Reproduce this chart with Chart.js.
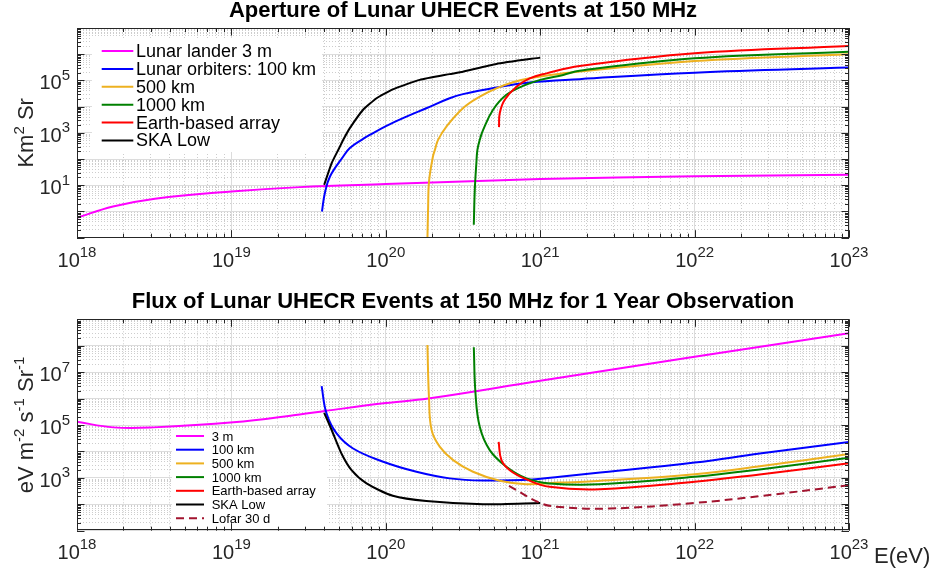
<!DOCTYPE html>
<html>
<head>
<meta charset="utf-8">
<script src="https://cdn.jsdelivr.net/npm/chart.js@4.4.1/dist/chart.umd.min.js"></script>
<style>
  html, body { margin: 0; padding: 0; background: #fff; }
  .panel { position: relative; width: 933px; height: 286px; }
</style>
</head>
<body>
<div class="panel"><canvas id="aperture"></canvas></div>
<div class="panel"><canvas id="flux"></canvas></div>
<script>
// values, energies in eV
const xTickExps = [18, 19, 20, 21, 22, 23];
const apertureTickExps = [1, 3, 5];
const fluxTickExps = [3, 5, 7];

// aperture, km^2 sr
const apLanderE = [1e18, 1.71e18, 3.2e18, 1e19, 2.77e19, 1e20, 1e21, 1e22, 1e23];
const apLanderA = [0.575, 1.55, 3.09, 5.82, 8.5, 11.1, 17.2, 22, 25];
const ap100E = [3.86e19, 4.03e19, 4.35e19, 5.3e19, 5.85e19, 6.97e19, 7.87e19, 1.01e20, 1.36e20, 1.83e20, 2.59e20, 3.16e20, 5.2e20, 8.55e20, 1.8e21, 1e22, 1e23];
const ap100A = [1.0, 5.05, 21.6, 125, 263, 541, 832, 1860, 4170, 8710, 20900, 30000, 53700, 83200, 112000, 198000, 308000];
const ap500E = [1.86e20, 1.88e20, 1.905e20, 2.02e20, 2.08e20, 2.18e20, 2.47e20, 3.16e20, 4.06e20, 5.2e20, 6.67e20, 8.55e20, 1.41e21, 1.8e21, 1e22, 1e23];
const ap500A = [0.08, 1.56, 14, 125, 224, 541, 1740, 8710, 24000, 50100, 85100, 120000, 186000, 219000, 553000, 1.0e6];
const ap1000E = [3.715e20, 3.77e20, 3.86e20, 3.92e20, 4.06e20, 4.27e20, 4.95e20, 6.04e20, 7.74e20, 1e21, 1.41e21, 1.8e21, 1e22, 1e23];
const ap1000A = [0.31, 6.7, 70, 224, 541, 1290, 7590, 28200, 61700, 105000, 162000, 234000, 702000, 1.25e6];
const apEarthE = [5.41e20, 5.47e20, 5.89e20, 7.02e20, 8.55e20, 1.1e21, 1.8e21, 1e22, 1e23];
const apEarthA = [1660, 5620, 18200, 57500, 120000, 186000, 355000, 1.09e6, 2.06e6];
const apSkaE = [3.99e19, 4.46e19, 4.99e19, 5.3e19, 5.85e19, 7.13e19, 8.71e19, 1.11e20, 1.66e20, 2.59e20, 3.16e20, 5.2e20, 1e21];
const apSkaA = [10.4, 70, 263, 541, 1510, 7590, 20900, 45700, 105000, 174000, 216000, 427000, 741000];

// flux, eV m^-2 s^-1 sr^-1
const fxLanderE = [1e18, 1.72e18, 3.12e18, 1.03e19, 2.77e19, 4.03e19, 1e20, 1.88e20, 1e21, 1e22, 1e23];
const fxLanderF = [1.32e5, 8.13e4, 8.13e4, 1.26e5, 2.51e5, 3.39e5, 6.8e5, 1.0e6, 4.7e6, 3.8e7, 2.95e8];
const fx100E = [3.84e19, 4.13e19, 4.8e19, 6.14e19, 9.62e19, 1.58e20, 2.59e20, 4.27e20, 8.97e20, 1.34e21, 2.2e21, 1e22, 2.64e22, 1e23];
const fx100F = [2.95e6, 2.75e5, 4.79e4, 1.29e4, 4070, 1700, 955, 794, 871, 1100, 1480, 3800, 8320, 2.29e4];
const fx500E = [1.86e20, 1.905e20, 1.98e20, 2.24e20, 2.73e20, 3.67e20, 5.47e20, 8.15e20, 1.34e21, 2.2e21, 1e22, 2.64e22, 1e23];
const fx500F = [1.07e8, 1e6, 6.46e4, 1.48e4, 4680, 1700, 776, 575, 660, 741, 1380, 2750, 7940];
const fx1000E = [3.715e20, 3.81e20, 4.06e20, 4.71e20, 6.04e20, 8.15e20, 1.15e21, 2.43e21, 1e22, 2.64e22, 1e23];
const fx1000F = [8.7e7, 1.58e6, 8.5e4, 1.12e4, 2630, 955, 617, 575, 1100, 2090, 5750];
const fxEarthE = [5.38e20, 5.61e20, 6.35e20, 8.15e20, 1.15e21, 2.43e21, 1e22, 2.64e22, 1e23];
const fxEarthF = [2.29e4, 4680, 1950, 871, 457, 372, 708, 1350, 3550];
const fxSkaE = [3.99e19, 4.46e19, 5.16e19, 6.0e19, 7.5e19, 1.11e20, 1.83e20, 4.27e20, 1e21];
const fxSkaF = [2.88e5, 6.46e4, 8320, 1950, 617, 209, 132, 100, 112];
const fxLofarE = [6.28e20, 1e21, 1.34e21, 2.82e21, 1e22, 2.64e22, 1e23];
const fxLofarF = [501, 112, 79, 69, 112, 204, 525];

const FONT = '"Liberation Sans", Arial, Helvetica, sans-serif';
const AXIS = '#262626';
const MAGENTA = '#ff00ff', BLUE = '#0000ff', ORANGE = '#edb120', GREEN = '#008000', RED = '#ff0000', BLACK = '#000000', LOFAR = '#a2142f';

// 1..9 x 10^e for every decade, decades flagged major
function decadeTicks(lo, hi) {
  const out = [];
  for (let e = lo; e <= hi; e++) {
    for (let m = 1; m <= 9; m++) {
      if (e === hi && m > 1) break;
      out.push({ value: m * Math.pow(10, e), major: m === 1 });
    }
  }
  return out;
}

function drawPower(ctx, exp, x, y, align) {
  ctx.font = '20px ' + FONT;
  const wb = ctx.measureText('10').width;
  ctx.font = '15px ' + FONT;
  const we = ctx.measureText(String(exp)).width;
  const left = align === 'center' ? x - (wb + we) / 2 : x - wb - we;
  ctx.textAlign = 'left';
  ctx.textBaseline = 'alphabetic';
  ctx.font = '20px ' + FONT;
  ctx.fillText('10', left, y);
  ctx.font = '15px ' + FONT;
  ctx.fillText(String(exp), left + wb, y - 9.5);
}

// text made of [string, isSuperscript] pieces
function drawRich(ctx, parts, x, y, align, size) {
  const big = size + 'px ' + FONT, small = Math.round(size * 0.7) + 'px ' + FONT;
  let w = 0;
  parts.forEach(p => { ctx.font = p[1] ? small : big; w += ctx.measureText(p[0]).width; });
  let cx = align === 'center' ? x - w / 2 : x;
  ctx.textAlign = 'left';
  ctx.textBaseline = 'alphabetic';
  parts.forEach(p => {
    ctx.font = p[1] ? small : big;
    ctx.fillText(p[0], cx, p[1] ? y - 9 : y);
    cx += ctx.measureText(p[0]).width;
  });
}

function drawFrame(chart, cfg) {
  const { ctx, chartArea: a, scales } = chart;
  ctx.save();
  ctx.strokeStyle = AXIS;
  ctx.lineWidth = 1;
  ctx.setLineDash([]);
  ctx.beginPath();
  scales.x.ticks.forEach(t => {
    const px = Math.round(scales.x.getPixelForValue(t.value)) + 0.5;
    const len = t.major ? 7.5 : 4;
    ctx.moveTo(px, a.bottom); ctx.lineTo(px, a.bottom - len);
    ctx.moveTo(px, a.top); ctx.lineTo(px, a.top + len);
  });
  scales.y.ticks.forEach(t => {
    const py = Math.round(scales.y.getPixelForValue(t.value)) + 0.5;
    const len = t.major ? 7.5 : 4;
    ctx.moveTo(a.left, py); ctx.lineTo(a.left + len, py);
    ctx.moveTo(a.right, py); ctx.lineTo(a.right - len, py);
  });
  ctx.stroke();
  ctx.strokeRect(Math.round(a.left) + 0.5, Math.round(a.top) + 0.5,
    Math.round(a.right - a.left) - 1, Math.round(a.bottom - a.top) - 1);

  ctx.fillStyle = AXIS;
  xTickExps.forEach(e => drawPower(ctx, e, scales.x.getPixelForValue(Math.pow(10, e)), a.bottom + cfg.xLabelGap, 'center'));
  cfg.yExps.forEach(e => drawPower(ctx, e, a.left - 7, scales.y.getPixelForValue(Math.pow(10, e)) + 9, 'right'));

  ctx.save();
  ctx.translate(33, (a.top + a.bottom) / 2);
  ctx.rotate(-Math.PI / 2);
  drawRich(ctx, cfg.yTitle, 0, 0, 'center', 22);
  ctx.restore();

  if (cfg.xTitle) drawRich(ctx, cfg.xTitle, 874, a.bottom + 32, 'left', 22);
  ctx.restore();
}

function drawLegend(chart, lg) {
  const { ctx, chartArea: a } = chart;
  ctx.save();
  ctx.fillStyle = '#ffffff';
  ctx.fillRect(a.left + lg.box[0], a.top + lg.box[1], lg.box[2], lg.box[3]);
  ctx.font = lg.size + 'px ' + FONT;
  ctx.textAlign = 'left';
  ctx.textBaseline = 'middle';
  chart.data.datasets.forEach((ds, i) => {
    const y = a.top + lg.row0 + i * lg.step;
    ctx.strokeStyle = ds.borderColor;
    ctx.lineWidth = 2;
    ctx.setLineDash(ds.borderDash || []);
    ctx.beginPath();
    ctx.moveTo(a.left + lg.line[0], y);
    ctx.lineTo(a.left + lg.line[1], y);
    ctx.stroke();
    ctx.fillStyle = '#000';
    ctx.fillText(ds.label, a.left + lg.text, y + 1);
  });
  ctx.restore();
}

function makeChart(id, cfg) {
  const n = cfg.series.length;
  return new Chart(document.getElementById(id), {
    type: 'scatter',
    data: {
      datasets: cfg.series.map((s, i) => ({
        label: s.label,
        data: s.x.map((x, k) => ({ x: x, y: s.y[k] })),
        borderColor: s.color,
        backgroundColor: s.color,
        borderWidth: 2,
        borderDash: s.dash || [],
        showLine: true,
        pointRadius: 0,
        pointHoverRadius: 0,
        tension: s.tension !== undefined ? s.tension : 0.4,
        order: n - i
      }))
    },
    options: {
      responsive: true,
      maintainAspectRatio: false,
      animation: false,
      events: [],
      layout: { padding: { left: 0, right: 84, top: 0, bottom: 0 } },
      plugins: {
        legend: { display: false },
        tooltip: { enabled: false },
        title: {
          display: true,
          text: cfg.title,
          fullSize: false,
          color: '#000',
          font: { family: FONT, size: 22, weight: 'bold', lineHeight: 1 },
          padding: cfg.titlePadding
        }
      },
      scales: {
        x: {
          type: 'logarithmic', min: 1e18, max: 1e23,
          afterBuildTicks: s => { s.ticks = decadeTicks(18, 23); },
          afterFit: s => { s.height = cfg.xAxisHeight; },
          ticks: { display: false, autoSkip: false },
          grid: { color: c => (c.tick && c.tick.major) ? '#dcdcdc' : '#cdcdcd', lineWidth: 1, drawTicks: false },
          border: { display: false, dash: c => (c.tick && c.tick.major) ? [] : [1, 2] }
        },
        y: {
          type: 'logarithmic', min: cfg.yMin, max: cfg.yMax,
          afterBuildTicks: s => { s.ticks = decadeTicks(cfg.yLo, cfg.yHi); },
          afterFit: s => { s.width = 77; },
          ticks: { display: false, autoSkip: false },
          grid: { color: c => (c.tick && c.tick.major) ? '#dcdcdc' : '#cdcdcd', lineWidth: 1, drawTicks: false },
          border: { display: false, dash: c => (c.tick && c.tick.major) ? [] : [1, 2] }
        }
      }
    },
    plugins: [{
      id: 'matlabLook',
      afterDatasetsDraw: chart => drawLegend(chart, cfg.legend),
      afterDraw: chart => drawFrame(chart, cfg)
    }]
  });
}

makeChart('aperture', {
  title: 'Aperture of Lunar UHECR Events at 150 MHz',
  titlePadding: { top: 0, bottom: 6 },
  xAxisHeight: 48.3,
  xLabelGap: 29,
  yMin: 1e-1, yMax: 1e7, yLo: -1, yHi: 7,
  yExps: apertureTickExps,
  yTitle: [['Km', false], ['2', true], [' Sr', false]],
  legend: { box: [15, 10, 230, 114], row0: 23, step: 17.9, line: [24.7, 56.3], text: 59, size: 18 },
  series: [
    { label: 'Lunar lander 3 m', x: apLanderE, y: apLanderA, color: MAGENTA },
    { label: 'Lunar orbiters: 100 km', x: ap100E, y: ap100A, color: BLUE },
    { label: '500 km', x: ap500E, y: ap500A, color: ORANGE },
    { label: '1000 km', x: ap1000E, y: ap1000A, color: GREEN },
    { label: 'Earth-based array', x: apEarthE, y: apEarthA, color: RED },
    { label: 'SKA Low', x: apSkaE, y: apSkaA, color: BLACK, tension: 0.15 }
  ]
});

makeChart('flux', {
  title: 'Flux of Lunar UHECR Events at 150 MHz for 1 Year Observation',
  titlePadding: { top: 5, bottom: 6.3 },
  xAxisHeight: 41.3,
  xLabelGap: 28,
  yMin: 1e1, yMax: 1e9, yLo: 1, yHi: 9,
  yExps: fluxTickExps,
  yTitle: [['eV m', false], ['-2', true], [' s', false], ['-1', true], [' Sr', false], ['-1', true]],
  xTitle: [['E(eV)', false]],
  legend: { box: [95, 110, 155, 98], row0: 116.7, step: 13.7, line: [99, 127], text: 134.7, size: 13 },
  series: [
    { label: '3 m', x: fxLanderE, y: fxLanderF, color: MAGENTA },
    { label: '100 km', x: fx100E, y: fx100F, color: BLUE },
    { label: '500 km', x: fx500E, y: fx500F, color: ORANGE },
    { label: '1000 km', x: fx1000E, y: fx1000F, color: GREEN },
    { label: 'Earth-based array', x: fxEarthE, y: fxEarthF, color: RED },
    { label: 'SKA Low', x: fxSkaE, y: fxSkaF, color: BLACK, tension: 0.25 },
    { label: 'Lofar 30 d', x: fxLofarE, y: fxLofarF, color: LOFAR, dash: [8, 5] }
  ]
});
</script>
</body>
</html>
